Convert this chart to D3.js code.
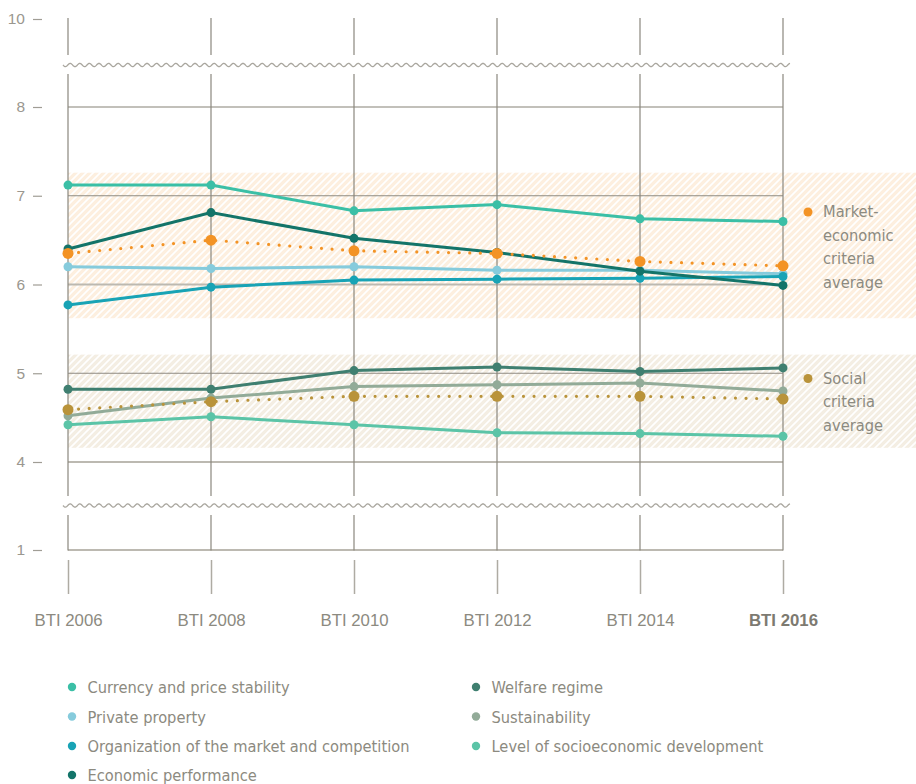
<!DOCTYPE html>
<html><head><meta charset="utf-8">
<script src="https://cdn.jsdelivr.net/npm/d3@7"></script>
<style>
body{margin:0;background:#fff;}
svg{display:block;font-family:"Liberation Sans Narrow","DejaVu Sans Condensed","Arial Narrow",sans-serif;}
</style></head>
<body><svg id="c" width="916" height="784"></svg>
<script>
const years = ["BTI 2006","BTI 2008","BTI 2010","BTI 2012","BTI 2014","BTI 2016"];
const yTicks = [1,4,5,6,7,8,10];

const currency      = [7.12, 7.12, 6.83, 6.90, 6.74, 6.71];
const privateProp   = [6.20, 6.18, 6.20, 6.16, 6.16, 6.12];
const organization  = [5.77, 5.97, 6.05, 6.06, 6.07, 6.09];
const economicPerf  = [6.40, 6.81, 6.52, 6.36, 6.15, 5.99];
const welfare       = [4.82, 4.82, 5.03, 5.07, 5.02, 5.06];
const sustainability= [4.52, 4.72, 4.85, 4.87, 4.89, 4.80];
const socioLevel    = [4.42, 4.51, 4.42, 4.33, 4.32, 4.29];
const marketAvg     = [6.35, 6.50, 6.38, 6.35, 6.26, 6.21];
const socialAvg     = [4.59, 4.68, 4.74, 4.74, 4.74, 4.71];

const seriesNames = ["Currency and price stability","Private property","Organization of the market and competition","Economic performance","Welfare regime","Sustainability","Level of socioeconomic development"];
const seriesColors = ["#3bbfa6","#86cbdc","#18a3b5","#137469","#3f7f70","#92ab98","#5bc4a7"];
const seriesData = [currency, privateProp, organization, economicPerf, welfare, sustainability, socioLevel];

const avgLabels = [["Market-","economic","criteria","average"],["Social","criteria","average"]];
const avgColors = ["#f39325","#b9933a"];
const avgData = [marketAvg, socialAvg];
// band value ranges [low, high]
const bands = [[5.62, 7.26],[4.16, 5.21]];
const bandColors = ["#fdefdf","#f4eee3"];

const svg = d3.select("#c");
const x = d3.scalePoint().domain(years).range([68, 783]);
const y = d3.scaleLinear().domain([1,4,8,10]).range([550,462,107,19]);
const textCol = "#8c8a80";
const fs = "16.3px";

// patterns
const defs = svg.append("defs");
bandColors.forEach((c,i)=>{
  const p = defs.append("pattern").attr("id","hatch"+i).attr("patternUnits","userSpaceOnUse")
    .attr("width",7).attr("height",7);
  p.append("rect").attr("width",7).attr("height",7).attr("fill",c);
  p.append("path").attr("d","M-1,1 l2,-2 M0,7 l7,-7 M6,8 l2,-2").attr("stroke","#fff").attr("stroke-width",1.7);
});

// bands
bands.forEach((b,i)=>{
  svg.append("rect").attr("x",68).attr("y",y(b[1])).attr("width",916-68).attr("height",y(b[0])-y(b[1]))
    .attr("fill","url(#hatch"+i+")");
});

// horizontal gridlines
const gridStyle = {1:["#bcb9b1",2],4:["#bcb9b1",2],5:["#8e8b82",1],6:["#bcb9b1",2],7:["#8e8b82",1],8:["#aeaba3",1.5]};
[1,4,5,6,7,8].forEach(v=>{
  svg.append("line").attr("x1",68).attr("x2",783).attr("y1",y(v)).attr("y2",y(v))
    .attr("stroke",gridStyle[v][0]).attr("stroke-width",gridStyle[v][1]);
});

// vertical gridlines with breaks
const segs = [[18,55],[74,496],[515,550.5]];
years.forEach(yr=>{
  segs.forEach(s=>{
    svg.append("line").attr("x1",x(yr)).attr("x2",x(yr)).attr("y1",s[0]).attr("y2",s[1])
      .attr("stroke","#8a877e").attr("stroke-width",1.2);
  });
});

// wavy break lines
function wave(yc){
  const pts = d3.range(63, 790.5, 0.5).map(px=>[px, yc + 1.6*Math.sin((px-63)/9.6*2*Math.PI)]);
  return d3.line()(pts);
}
[65,505.5].forEach(yc=>{
  svg.append("path").attr("d",wave(yc)).attr("fill","none").attr("stroke","#a9a69e").attr("stroke-width",1.3);
});

// y axis
const ya = svg.append("g").attr("transform","translate(42,0)")
  .call(d3.axisLeft(y).tickValues(yTicks).tickSize(9).tickPadding(8).tickFormat(d3.format("d")));
ya.select(".domain").remove();
ya.selectAll("line").attr("stroke","#a09d95").attr("stroke-width",1.2);
ya.selectAll("text").attr("fill","#9a978f").style("font-size","15.5px").style("font-family","inherit");

// x axis
const xa = svg.append("g").attr("transform","translate(0,560)")
  .call(d3.axisBottom(x).tickSize(34).tickPadding(20));
xa.select(".domain").remove();
xa.selectAll("line").attr("stroke","#aeaba3").attr("stroke-width",1.5);
xa.selectAll("text").style("font-size","16.8px").style("font-family","inherit")
  .attr("font-weight",d=>d==="BTI 2016"?"bold":null)
  .attr("fill",d=>d==="BTI 2016"?"#7d7a71":textCol);

// series lines
const line = d3.line().x((d,i)=>x(years[i])).y(d=>y(d));
seriesData.forEach((s,k)=>{
  const g = svg.append("g");
  g.append("path").attr("d",line(s)).attr("fill","none").attr("stroke",seriesColors[k]).attr("stroke-width",3);
  g.selectAll("circle").data(s).join("circle").attr("cx",(d,i)=>x(years[i])).attr("cy",d=>y(d)).attr("r",4.5)
    .attr("fill",seriesColors[k]);
});

// averages (dotted)
avgData.forEach((s,k)=>{
  const g = svg.append("g");
  g.append("path").attr("d",line(s)).attr("fill","none").attr("stroke",avgColors[k]).attr("stroke-width",3.2)
    .attr("stroke-linecap","round").attr("stroke-dasharray","0 10.6");
  g.selectAll("circle").data(s).join("circle").attr("cx",(d,i)=>x(years[i])).attr("cy",d=>y(d)).attr("r",5.5)
    .attr("fill",avgColors[k]);
});

// right labels
const labelTop = [217, 383.5];
avgLabels.forEach((lines,k)=>{
  svg.append("circle").attr("cx",808).attr("cy",labelTop[k]-5).attr("r",4.5).attr("fill",avgColors[k]);
  const t = svg.append("text").attr("x",823).attr("y",labelTop[k]).attr("fill",textCol).style("font-size",fs);
  lines.forEach((l,i)=>t.append("tspan").attr("x",823).attr("y",labelTop[k]+i*23.7).text(l));
});

// legend
const legendPos = [[72,687],[72,716.5],[72,746],[72,775],[476,687],[476,716.5],[476,746]];
seriesNames.forEach((n,k)=>{
  const [lx,ly] = legendPos[k];
  svg.append("circle").attr("cx",lx).attr("cy",ly).attr("r",4.2).attr("fill",seriesColors[k]);
  svg.append("text").attr("x",lx+15.5).attr("y",ly+6).attr("fill",textCol).style("font-size",fs).text(n);
});
</script></body></html>
